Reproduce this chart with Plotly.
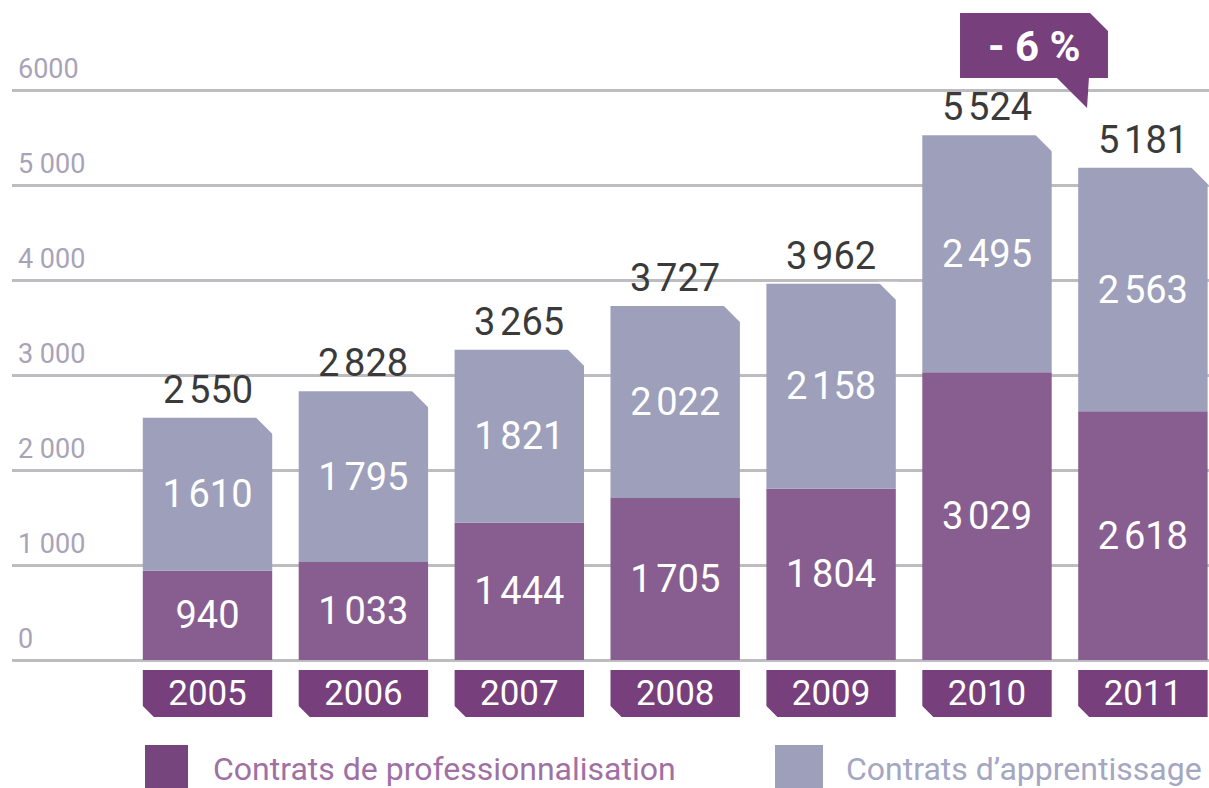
"""Stacked bars: contrats de professionnalisation / d'apprentissage, 2005-2011."""
import plotly.graph_objects as go

years = ["2005", "2006", "2007", "2008", "2009", "2010", "2011"]
pro = [940, 1033, 1444, 1705, 1804, 3029, 2618]
appr = [1610, 1795, 1821, 2022, 2158, 2495, 2563]
totals = [2550, 2828, 3265, 3727, 3962, 5524, 5181]
tick_vals = [0, 1000, 2000, 3000, 4000, 5000, 6000]
tick_text = ["0", "1 000", "2 000", "3 000", "4 000", "5 000", "6000"]

PURPLE = "#875e8f"
GREY = "#9d9fbb"
DARK = "#773f7c"
FONT = "Roboto, sans-serif"
W = 0.83  # bar width in category units


def fmt(v):
    return f"{v:,}".replace(",", "\u202f")


x = list(range(len(years)))

fig = go.Figure()

fig.add_trace(go.Bar(
    x=x, y=pro, base=0, width=W, marker=dict(color=PURPLE, line=dict(width=0)),
    text=[fmt(v) for v in pro], textposition="inside", insidetextanchor="middle",
    textfont=dict(color="white", size=38, family=FONT), textangle=0,
    name="Contrats de professionnalisation", hoverinfo="skip",
))
fig.add_trace(go.Bar(
    x=x, y=appr, base=pro, width=W, marker=dict(color=GREY, line=dict(width=0)),
    text=[fmt(v) for v in appr], textposition="inside", insidetextanchor="middle",
    textfont=dict(color="white", size=38, family=FONT), textangle=0,
    name="Contrats d'apprentissage", hoverinfo="skip",
))
# year boxes under the axis
fig.add_trace(go.Bar(
    x=x, y=[495] * len(years), base=-600, width=W,
    marker=dict(color=DARK, line=dict(width=0)),
    text=years, textposition="inside", insidetextanchor="middle",
    textfont=dict(color="white", size=40, family=FONT), textangle=0,
    hoverinfo="skip",
))

shapes = []
annotations = []
for i, t in enumerate(totals):
    # clipped top-right corner of each bar
    shapes.append(dict(
        type="path", xref="x", yref="y", xsizemode="pixel", ysizemode="pixel",
        xanchor=i + W / 2, yanchor=t, path="M 2 2 L -18 2 L 2 -18 Z",
        fillcolor="white", line=dict(width=0), layer="above",
    ))
    # clipped bottom-left corner of each year box
    shapes.append(dict(
        type="path", xref="x", yref="y", xsizemode="pixel", ysizemode="pixel",
        xanchor=i - W / 2, yanchor=-600, path="M -2 -2 L 13 -2 L -2 13 Z",
        fillcolor="white", line=dict(width=0), layer="above",
    ))
    # total above the bar
    annotations.append(dict(
        x=i, y=t, xref="x", yref="y", text=fmt(t), showarrow=False,
        xanchor="center", yanchor="bottom", yshift=4,
        font=dict(color="#3a3a3a", size=38, family=FONT),
    ))


def px(xp, yp):
    return (xp - 12) / 1197, (725 - yp) / 705


# "- 6 %" callout
pts = [(960, 13), (1090, 13), (1108, 31), (1108, 78), (1089, 78), (1087, 108),
       (1057, 78), (960, 78)]
path = "M " + " L ".join(f"{px(a, b)[0]:.4f} {px(a, b)[1]:.4f}" for a, b in pts) + " Z"
shapes.append(dict(type="path", xref="paper", yref="paper", path=path,
                   fillcolor=DARK, line=dict(width=0), layer="above"))

# legend squares
for (x0, x1, c) in [(145, 188, "#77457e"), (775, 823, "#9ea0bb")]:
    a0, b0 = px(x0, 745)
    a1, b1 = px(x1, 792)
    shapes.append(dict(type="rect", xref="paper", yref="paper", x0=a0, x1=a1,
                       y0=b0, y1=b1, fillcolor=c, line=dict(width=0)))

for v, t in zip(tick_vals, tick_text):
    annotations.append(dict(
        x=0, xref="paper", y=v, yref="y", text=t, showarrow=False,
        xanchor="left", yanchor="bottom", xshift=4, yshift=3,
        font=dict(color="#a9a3b8", size=27, family=FONT),
    ))

cx, cy = px(1034, 46)
annotations.append(dict(x=cx, y=cy, xref="paper", yref="paper", text="<b>- 6 %</b>",
                        xanchor="center", yanchor="middle", showarrow=False,
                        font=dict(color="white", size=42, family=FONT)))

for xp, txt, col in [(211, "Contrats de professionnalisation", "#a070a4"),
                     (844, "Contrats\u00a0d\u2019apprentissage", "#a4a6c2")]:
    ax, ay = px(xp, 769)
    annotations.append(dict(x=ax, y=ay, xref="paper", yref="paper", text=txt,
                            showarrow=False, xanchor="left", yanchor="middle",
                            font=dict(color=col, size=32, family=FONT)))

fig.update_layout(
    width=1209, height=788, barmode="overlay", showlegend=False,
    margin=dict(l=12, r=0, t=20, b=63),
    paper_bgcolor="white", plot_bgcolor="white",
    xaxis=dict(range=[-1.254, 6.424], visible=False, fixedrange=True),
    yaxis=dict(range=[-684, 6737], tickvals=tick_vals, showticklabels=False,
               showgrid=True, gridcolor="#bdbcc0", gridwidth=3, zeroline=False,
               fixedrange=True),
    shapes=shapes, annotations=annotations,
    font=dict(family=FONT),
)

fig.write_html("out.html", config={"displayModeBar": False},
               post_script="document.body.style.margin='0';")
